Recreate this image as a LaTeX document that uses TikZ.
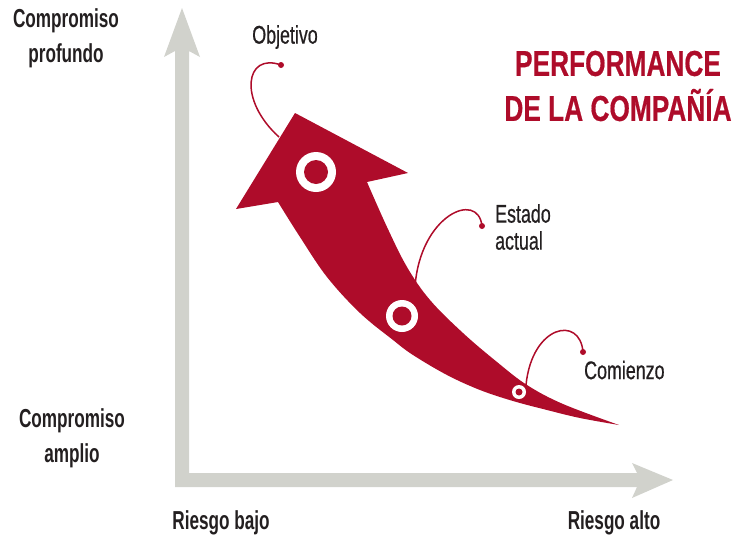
\documentclass[tikz,border=0pt]{standalone}
\usepackage{fontspec}
\newfontfamily\lblfont[FakeStretch=0.7,FakeBold=0.6]{Liberation Sans}
\newfontfamily\axfont[FakeStretch=0.66]{Liberation Sans Bold}
\newfontfamily\ttlfont[FakeStretch=0.73,FakeBold=0.5]{Liberation Sans Bold}
\definecolor{axgray}{RGB}{209,210,204}
\definecolor{crim}{RGB}{174,12,42}
\definecolor{ink}{RGB}{35,31,32}
\tikzset{
  axlabel/.style={font=\axfont\fontsize{26}{35}\selectfont, text=ink, align=center, inner sep=0pt},
  ptlabel/.style={font=\lblfont\fontsize{25.5}{27}\selectfont, text=ink, align=left, inner sep=0pt},
  title/.style={font=\ttlfont\fontsize{36}{45}\selectfont, text=crim, align=center, inner sep=0pt},
  leader/.style={draw=crim, line width=1.5pt},
  dotmark/.style={circle, fill=crim, inner sep=0pt, minimum size=6pt}
}
\begin{document}
\begin{tikzpicture}[x=1pt,y=-1pt]
\useasboundingbox (0,0) rectangle (739,536);
% axes
\fill[axgray] (182,8) -- (200,57) -- (189,51) -- (189,473) -- (637,473) -- (632,463)
  -- (673,480) -- (632,498) -- (637,487) -- (175,487) -- (175,51) -- (164,57) -- cycle;
% big arrow
\fill[crim] (295,113) -- (408,173) -- plot[smooth, tension=0.6] coordinates {(367,182) (387,227) (407,267) (430,300) (463,333) (497,362) (527,385) (563,404) (619,425)}
  -- plot[smooth, tension=0.6] coordinates {(619,425) (580,418) (547,410) (513,401) (480,390) (447,375) (413,355) (393,340) (360,313) (327,277) (300,237) (278,202)}
  -- (236,209) -- cycle;
% circles on arrow
\fill[white] (316,172) circle (20);
\fill[crim] (316,172) circle (12);
\fill[white] (402,316) circle (16);
\fill[crim] (402,316) circle (9.5);
\fill[white] (519,392) circle (7);
\fill[crim] (519,392) circle (3.5);
% attach points
\coordinate (objA) at (279,137);
\coordinate (estA) at (415,287);
\coordinate (comA) at (526,385);
\node[dotmark] (objD) at (281,65) {};
\node[dotmark] (estD) at (482,226) {};
\node[dotmark] (comD) at (583,352) {};
\draw[leader] (objA) .. controls (238,100) and (245,52) .. (objD.center);
\draw[leader] (estA) .. controls (420,215) and (478,190) .. (estD.center);
\draw[leader] (comA) .. controls (532,325) and (580,315) .. (comD.center);
% labels
\node[axlabel] (cp) at (66,38) {Compromiso\\profundo};
\node[axlabel] (ca) at (72,438) {Compromiso\\amplio};
\node[axlabel] (rb) at (221,523) {Riesgo bajo};
\node[axlabel] (ra) at (614,523) {Riesgo alto};
\node[ptlabel] (obj) at (285,37) {Objetivo};
\node[ptlabel, anchor=west] (est) at (495,227) {Estado\\actual};
\node[ptlabel, anchor=west] (com) at (584,370) {Comienzo};
\node[title] (ttl) at (618,86) {PERFORMANCE\\DE LA COMPAÑÍA};
\end{tikzpicture}
\end{document}
